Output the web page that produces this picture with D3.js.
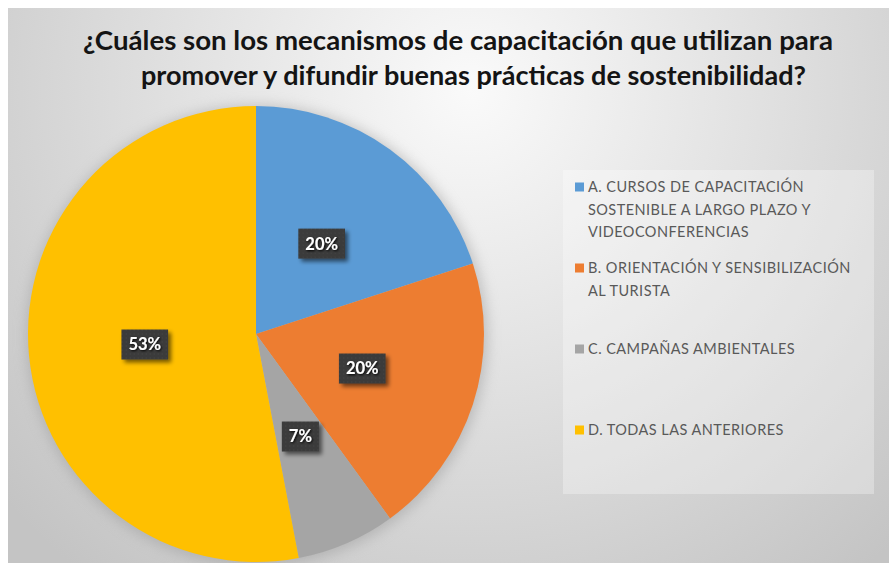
<!DOCTYPE html>
<html>
<head>
<meta charset="utf-8">
<script src="https://cdn.jsdelivr.net/npm/d3@7"></script>
<style>
  html, body { margin: 0; padding: 0; background: #ffffff; }
  svg { display: block; }
</style>
</head>
<body>
<svg id="chart" width="889" height="563"></svg>
<script>
// Survey answers: share of respondents per training mechanism (percent)
const categories = [
  "A. CURSOS DE CAPACITACIÓN SOSTENIBLE A LARGO PLAZO Y VIDEOCONFERENCIAS",
  "B. ORIENTACIÓN Y SENSIBILIZACIÓN AL TURISTA",
  "C. CAMPAÑAS AMBIENTALES",
  "D. TODAS LAS ANTERIORES"
];
const legendLines = [
  ["A. CURSOS DE CAPACITACIÓN", "SOSTENIBLE A LARGO PLAZO Y", "VIDEOCONFERENCIAS"],
  ["B. ORIENTACIÓN Y SENSIBILIZACIÓN", "AL TURISTA"],
  ["C. CAMPAÑAS AMBIENTALES"],
  ["D. TODAS LAS ANTERIORES"]
];
const values = [20, 20, 7, 53];
const colors = ["#5b9bd5", "#ed7d31", "#a5a5a5", "#ffc000"];
const titleLines = [
  "¿Cuáles son los mecanismos de capacitación que utilizan para",
  "promover y difundir buenas prácticas de sostenibilidad?"
];

const svg = d3.select("#chart");
const W = 889, H = 563;
const defs = svg.append("defs");

// Background gradient of the chart area
const bg = defs.append("radialGradient").attr("id", "bgGrad")
  .attr("gradientUnits", "userSpaceOnUse")
  .attr("cx", 470).attr("cy", 90).attr("r", 620);
bg.append("stop").attr("offset", "0").attr("stop-color", "#fafafa");
bg.append("stop").attr("offset", "0.45").attr("stop-color", "#e2e2e2");
bg.append("stop").attr("offset", "1").attr("stop-color", "#c4c4c4");

// Soft halo behind the pie
const halo = defs.append("filter").attr("id", "halo")
  .attr("x", "-20%").attr("y", "-20%").attr("width", "140%").attr("height", "140%");
halo.append("feGaussianBlur").attr("stdDeviation", 7);

// Drop shadow for the data label boxes
const shadow = defs.append("filter").attr("id", "boxShadow")
  .attr("x", "-30%").attr("y", "-30%").attr("width", "170%").attr("height", "180%");
shadow.append("feGaussianBlur").attr("in", "SourceAlpha").attr("stdDeviation", 2).attr("result", "b");
shadow.append("feOffset").attr("in", "b").attr("dx", 3).attr("dy", 3).attr("result", "o");
shadow.append("feComponentTransfer").attr("in", "o").attr("result", "s")
  .append("feFuncA").attr("type", "linear").attr("slope", 0.55);
const sm = shadow.append("feMerge");
sm.append("feMergeNode").attr("in", "s");
sm.append("feMergeNode").attr("in", "SourceGraphic");

// Dotted texture inside label boxes
const pat = defs.append("pattern").attr("id", "dots")
  .attr("patternUnits", "userSpaceOnUse").attr("width", 4).attr("height", 4);
pat.append("rect").attr("width", 4).attr("height", 4).attr("fill", "#3a3a3a");
pat.append("rect").attr("x", 1).attr("y", 1).attr("width", 1).attr("height", 1).attr("fill", "#4a4a4a");

// Glow under label text
const tglow = defs.append("filter").attr("id", "textShadow")
  .attr("x", "-20%").attr("y", "-30%").attr("width", "140%").attr("height", "160%");
tglow.append("feGaussianBlur").attr("in", "SourceAlpha").attr("stdDeviation", 0.8).attr("result", "b");
tglow.append("feOffset").attr("in", "b").attr("dx", 1).attr("dy", 1).attr("result", "o");
const tm = tglow.append("feMerge");
tm.append("feMergeNode").attr("in", "o");
tm.append("feMergeNode").attr("in", "SourceGraphic");

// Chart area
svg.append("rect").attr("x", 8).attr("y", 8).attr("width", W - 8).attr("height", H - 8)
  .attr("fill", "url(#bgGrad)");

// Title
const titleX = [83, 141], titleW = [750, 665], titleY = [50, 85];
svg.append("g").selectAll("text").data(titleLines).join("text")
  .attr("x", (d, i) => titleX[i])
  .attr("y", (d, i) => titleY[i])
  .attr("textLength", (d, i) => titleW[i])
  .attr("lengthAdjust", "spacingAndGlyphs")
  .attr("font-family", "Lato, 'Open Sans', sans-serif")
  .attr("font-weight", 700)
  .attr("font-size", 26.5)
  .attr("fill", "#141414")
  .text(d => d);

// Pie
const cx = 256, cy = 334, R = 228;
const pie = d3.pie().sort(null).value(d => d);
const arcs = pie(values);
const arc = d3.arc().innerRadius(0).outerRadius(R);
const labelArc = d3.arc().innerRadius(R * 0.49).outerRadius(R * 0.49);

const pg = svg.append("g").attr("transform", `translate(${cx},${cy})`);
pg.append("circle").attr("r", R + 2).attr("cx", 1).attr("cy", 2)
  .attr("fill", "#9a9a9a").attr("opacity", 0.55).attr("filter", "url(#halo)");
pg.selectAll("path.slice").data(arcs).join("path")
  .attr("class", "slice")
  .attr("d", arc)
  .attr("fill", (d, i) => colors[i]);

// Data labels
const lg = pg.selectAll("g.lbl").data(arcs).join("g")
  .attr("class", "lbl")
  .attr("transform", d => `translate(${labelArc.centroid(d)})`);
lg.each(function(d) {
  const g = d3.select(this);
  const txt = d.data + "%";
  const t = g.append("text")
    .attr("text-anchor", "middle")
    .attr("dy", "0.36em")
    .attr("font-family", "Lato, 'Open Sans', sans-serif")
    .attr("font-weight", 700)
    .attr("font-size", 16.5)
    .attr("fill", "#ffffff")
    .attr("filter", "url(#textShadow)")
    .text(txt);
  const w = t.node().getComputedTextLength() + 14;
  g.insert("rect", "text")
    .attr("x", -w / 2).attr("y", -15).attr("width", w).attr("height", 30)
    .attr("fill", "url(#dots)")
    .attr("filter", "url(#boxShadow)");
});

// Legend
const legX = 563, legY = 170;
svg.append("rect").attr("x", legX).attr("y", legY).attr("width", 311).attr("height", 324)
  .attr("fill", "#ffffff").attr("opacity", 0.3);
const entryY = d3.scalePoint().domain(d3.range(categories.length)).range([187, 430]);
const le = svg.append("g").selectAll("g").data(legendLines).join("g")
  .attr("transform", (d, i) => `translate(575,${entryY(i)})`);
le.append("rect").attr("x", 0).attr("y", -4.5).attr("width", 9).attr("height", 9)
  .attr("fill", (d, i) => colors[i]);
le.each(function(lines) {
  d3.select(this).selectAll("text").data(lines).join("text")
    .attr("x", 13)
    .attr("y", (d, j) => j * 22.5)
    .attr("dy", "0.36em")
    .attr("font-family", "Lato, 'Open Sans', sans-serif")
    .attr("font-size", 14.5)
    .attr("letter-spacing", 0.45)
    .attr("fill", "#595959")
    .text(d => d);
});
</script>
</body>
</html>
